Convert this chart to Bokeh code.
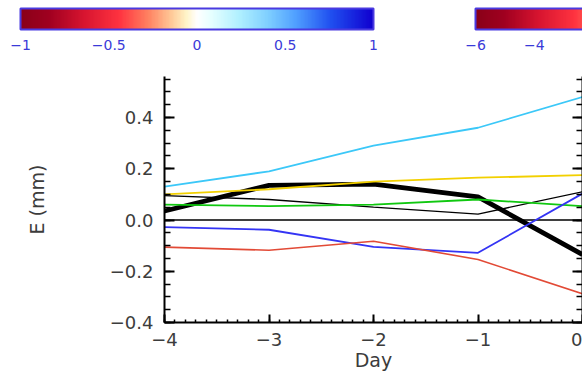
from bokeh.plotting import figure
from bokeh.models import (ColorBar, LinearColorMapper, FixedTicker, SingleIntervalTicker,
                          LinearAxis, Range1d, CustomJSTickFormatter)
from bokeh.layouts import column
from bokeh.embed import file_html
from bokeh.resources import INLINE

# ---------------- data ----------------
days = [-4, -3, -2, -1, 0]
cyan_vals = [0.13, 0.19, 0.29, 0.36, 0.48]
yellow_vals = [0.10, 0.12, 0.15, 0.165, 0.175]
thick_black_vals = [0.035, 0.135, 0.14, 0.09, -0.135]
thin_black_vals = [0.095, 0.08, 0.05, 0.023, 0.11]
green_vals = [0.06, 0.054, 0.06, 0.08, 0.054]
blue_vals = [-0.028, -0.038, -0.105, -0.128, 0.103]
red_vals = [-0.106, -0.118, -0.083, -0.154, -0.288]
zero_vals = [0, 0, 0, 0, 0]

cb1_ticks = [-1, -0.5, 0, 0.5, 1]
cb1_range = (-1, 1)
cb2_ticks = [-6, -4]
cb2_range = (-6, 6)

# ---------------- palette (style) ----------------
stops = [
    (0.00, "#8a0018"), (0.08, "#a00020"), (0.18, "#d81530"), (0.28, "#ff3340"),
    (0.36, "#ff8060"), (0.43, "#ffcc9a"), (0.47, "#fff4c8"), (0.50, "#ffffff"),
    (0.54, "#e6ffff"), (0.62, "#b0f0ff"), (0.70, "#80d0ff"), (0.78, "#50a0ff"),
    (0.88, "#2050f0"), (1.00, "#1000d0"),
]

def _hex(c):
    return tuple(int(c[i:i + 2], 16) for i in (1, 3, 5))

def build_palette(n=256):
    out = []
    for k in range(n):
        t = k / (n - 1)
        for (t0, c0), (t1, c1) in zip(stops[:-1], stops[1:]):
            if t0 <= t <= t1:
                f = 0 if t1 == t0 else (t - t0) / (t1 - t0)
                a, b = _hex(c0), _hex(c1)
                rgb = [round(a[j] + (b[j] - a[j]) * f) for j in range(3)]
                out.append("#%02x%02x%02x" % tuple(rgb))
                break
    return out

pal = build_palette()

FONT = "DejaVu Sans"
TXT = "#3c3c3c"
CB_TXT = "#3a3ad8"
W = 582
TOP_H = 76
MAIN_H = 297
FRAME_LEFT = 164

cb_fmt = CustomJSTickFormatter(code="""
    const a = Math.abs(tick);
    if (a < 1e-9) return '0';
    return (tick < 0 ? '\u2212' : '') + a.toString();
""")

# ---------------- top figure with colour bars ----------------
top = figure(width=W, height=TOP_H, x_range=Range1d(0, W), y_range=Range1d(0, TOP_H),
             output_backend="svg", toolbar_location=None,
             x_axis_location=None, y_axis_location=None,
             min_border=0, outline_line_color=None)
top.grid.visible = False


def make_cb(rng, ticks, x):
    # location is relative to the (column-aligned) frame of this figure
    return ColorBar(
        color_mapper=LinearColorMapper(palette=pal, low=rng[0], high=rng[1]),
        orientation="horizontal", width=353, height=21, location=(x - FRAME_LEFT, 24),
        padding=0, margin=0, ticker=FixedTicker(ticks=ticks), formatter=cb_fmt,
        major_label_text_font_size="14px", major_label_text_color=CB_TXT,
        major_label_text_font=FONT,
        major_tick_line_color=None, minor_tick_line_color=None,
        bar_line_color="#4a3ae0", bar_line_width=2,
        background_fill_alpha=0, border_line_color=None, label_standoff=10,
    )

top.add_layout(make_cb(cb1_range, cb1_ticks, 20), "center")
top.add_layout(make_cb(cb2_range, cb2_ticks, 475), "center")

# ---------------- main figure ----------------
p = figure(width=W, height=MAIN_H, x_range=Range1d(-4, 0), y_range=Range1d(-0.4, 0.56),
           output_backend="svg", toolbar_location=None,
           min_border_left=FRAME_LEFT, min_border_right=0, min_border_top=0,
           outline_line_color=None)
p.grid.visible = False

p.line(days, zero_vals, line_color="black", line_width=1.3)
p.line(days, thick_black_vals, line_color="black", line_width=4.8)
p.line(days, cyan_vals, line_color="#3cc8f8", line_width=1.8)
p.line(days, yellow_vals, line_color="#f2d000", line_width=1.8)
p.line(days, thin_black_vals, line_color="black", line_width=1.3)
p.line(days, green_vals, line_color="#10c810", line_width=1.8)
p.line(days, blue_vals, line_color="#3434f4", line_width=1.8)
p.line(days, red_vals, line_color="#e24a36", line_width=1.6)

x_fmt = CustomJSTickFormatter(code="""
    const a = Math.abs(tick);
    if (a < 1e-9) return '0';
    return (tick < 0 ? '\u2212' : '') + a.toFixed(0);
""")
y_fmt = CustomJSTickFormatter(code="""
    const a = Math.abs(tick);
    if (a < 1e-9) return '0.0';
    return (tick < 0 ? '\u2212' : '') + a.toFixed(1);
""")
blank_fmt = CustomJSTickFormatter(code="return '';")

xax = p.xaxis[0]
xax.ticker = SingleIntervalTicker(interval=1, num_minor_ticks=10)
xax.formatter = x_fmt
xax.axis_label = "Day"
xax.major_tick_in = 8
xax.minor_tick_in = 3

yax = p.yaxis[0]
yax.ticker = SingleIntervalTicker(interval=0.2, num_minor_ticks=4)
yax.formatter = y_fmt
yax.axis_label = "E (mm)"
yax.major_tick_in = 10
yax.minor_tick_in = 6

rax = LinearAxis(ticker=SingleIntervalTicker(interval=0.2, num_minor_ticks=4),
                 formatter=blank_fmt, major_label_standoff=0,
                 major_tick_in=10, minor_tick_in=6)
p.add_layout(rax, "right")

for ax in (xax, yax, rax):
    ax.axis_line_width = 2
    ax.axis_line_color = "black"
    ax.major_tick_out = 0
    ax.minor_tick_out = 0
    ax.major_tick_line_width = 2
    ax.minor_tick_line_width = 1.5

for ax in (xax, yax):
    ax.major_label_text_font = FONT
    ax.major_label_text_font_size = "18px"
    ax.major_label_text_color = TXT
    ax.axis_label_text_font = FONT
    ax.axis_label_text_font_size = "19px"
    ax.axis_label_text_font_style = "normal"
    ax.axis_label_text_color = TXT

xax.major_label_standoff = 10
xax.axis_label_standoff = 0
yax.major_label_standoff = 11
yax.axis_label_standoff = 59

layout = column(top, p, spacing=0)
open("out.html", "w").write(file_html(layout, INLINE))
